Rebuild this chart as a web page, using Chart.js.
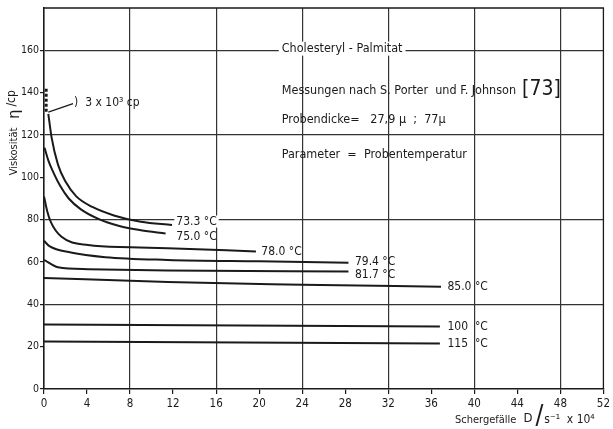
<!DOCTYPE html>
<html>
<head>
<meta charset="utf-8">
<script src="https://cdn.jsdelivr.net/npm/chart.js@4/dist/chart.umd.min.js"></script>
<style>
body { margin: 0; background: #fff; }
</style>
</head>
<body>
<canvas id="chart" width="613" height="429"></canvas>
<script>
// axis ticks
const xTicks = [0, 4, 8, 12, 16, 20, 24, 28, 32, 36, 40, 44, 48, 52];
const yTicks = [0, 20, 40, 60, 80, 100, 120, 140, 160];

// Schergefälle D (x 10^4 1/s) and Viskosität (cp) per temperature
const x733 = [0.4, 0.7, 1.3, 2.0, 3.0, 4.5, 6.5, 9, 11.9];
const y733 = [130, 119, 106, 98, 91, 86, 82, 79, 77.5];
const x750 = [0.05, 0.4, 0.9, 1.5, 2.3, 3.4, 5, 7, 9, 11.3];
const y750 = [114, 108, 102, 96, 90, 85, 80.5, 77, 75, 73.5];
const x780 = [0, 0.3, 0.65, 1.6, 4.1, 8, 11.5, 19.7];
const y780 = [91, 84, 78.7, 72, 68, 67, 66.5, 65];
const x794 = [0, 0.5, 2.5, 5.7, 11.5, 20, 28.3];
const y794 = [70, 67.5, 64.5, 62.3, 61, 60.3, 59.7];
const x817 = [0, 1.3, 4.1, 11.5, 28.3];
const y817 = [61, 57.5, 56.6, 56, 55.5];
const x850 = [0, 11.5, 24, 36.9];
const y850 = [52.5, 50.5, 49.3, 48.3];
const x100 = [0, 36.8];
const y100 = [30.5, 29.5];
const x115 = [0, 36.8];
const y115 = [22.5, 21.5];
// off-scale part (3 x 10^3 cp)
const xHigh = [0.2, 0.2];
const yHigh = [131, 142];
const xLead = [0.4, 2.7];
const yLead = [130.8, 134.8];

const curveNames = ['73.3 °C', '75.0 °C', '78.0 °C', '79.4 °C', '81.7 °C', '85.0 °C', '100 °C', '115 °C'];
const curveX = [x733, x750, x780, x794, x817, x850, x100, x115];
const curveY = [y733, y750, y780, y794, y817, y850, y100, y115];

// label anchors (data units)
const curveLabels = [
    { text: '73.3 °C', x: 12.3, y: 79.1, bg: true },
    { text: '75.0 °C', x: 12.3, y: 72 },
    { text: '78.0 °C', x: 20.2, y: 65 },
    { text: '79.4 °C', x: 28.9, y: 60.2 },
    { text: '81.7 °C', x: 28.9, y: 54 },
    { text: '85.0 °C', x: 37.5, y: 48.3 },
    { text: '100  °C', x: 37.5, y: 29.4 },
    { text: '115  °C', x: 37.5, y: 21.3 }
];

const FONT = "'DejaVu Sans Condensed', 'DejaVu Sans', sans-serif";
const INK = '#1a1a1a';

const toPts = (xs, ys) => xs.map((x, i) => ({ x: x, y: ys[i] }));

const datasets = curveNames.map((name, i) => ({
    label: name,
    data: toPts(curveX[i], curveY[i]),
    borderColor: INK,
    borderWidth: 2,
    pointRadius: 0,
    cubicInterpolationMode: 'monotone',
    fill: false
}));
datasets.push({
    label: 'high',
    data: toPts(xHigh, yHigh),
    borderColor: INK,
    borderWidth: 3,
    borderDash: [3, 2],
    pointRadius: 0
});
datasets.push({
    label: 'lead',
    data: toPts(xLead, yLead),
    borderColor: INK,
    borderWidth: 1.2,
    pointRadius: 0
});

const textPlugin = {
    id: 'texts',
    afterDraw(chart) {
        const ctx = chart.ctx;
        const xs = chart.scales.x, ys = chart.scales.y;
        const area = chart.chartArea;
        ctx.save();
        ctx.fillStyle = INK;
        ctx.strokeStyle = INK;

        // frame top and right
        ctx.lineWidth = 1.3;
        ctx.beginPath();
        ctx.moveTo(area.left, area.top);
        ctx.lineTo(area.right, area.top);
        ctx.lineTo(area.right, area.bottom);
        ctx.stroke();

        ctx.textBaseline = 'middle';
        ctx.textAlign = 'left';
        ctx.font = '12px ' + FONT;
        curveLabels.forEach(l => {
            const px = xs.getPixelForValue(l.x), py = ys.getPixelForValue(l.y);
            if (l.bg) {
                const w = ctx.measureText(l.text).width;
                ctx.fillStyle = '#fff';
                ctx.fillRect(px - 2, py - 6, w + 4, 12);
                ctx.fillStyle = INK;
            }
            ctx.fillText(l.text, px, py);
        });

        // 3 x 10^3 cp
        ctx.font = '12px ' + FONT;
        ctx.fillText(')  3 x 10³ cp', xs.getPixelForValue(2.8), ys.getPixelForValue(135.2));

        // info block
        const bx = xs.getPixelForValue(22.1);
        ctx.font = '12.5px ' + FONT;
        let t = 'Cholesteryl - Palmitat';
        let py = ys.getPixelForValue(160.8);
        let w = ctx.measureText(t).width;
        ctx.fillStyle = '#fff';
        ctx.fillRect(bx - 3, py - 7, w + 6, 14);
        ctx.fillStyle = INK;
        ctx.fillText(t, bx, py);

        t = 'Messungen nach S. Porter  und F. Johnson';
        py = ys.getPixelForValue(141);
        ctx.fillText(t, bx, py);
        w = ctx.measureText(t).width;
        ctx.font = '21px ' + FONT;
        ctx.fillText('[73]', bx + w + 6, py - 1);

        ctx.font = '12.5px ' + FONT;
        ctx.fillText('Probendicke=   27,9 µ  ;  77µ', bx, ys.getPixelForValue(127));
        ctx.fillText('Parameter  =  Probentemperatur', bx, ys.getPixelForValue(110.5));

        // y title (rotated)
        ctx.save();
        ctx.translate(14, ys.getPixelForValue(101));
        ctx.rotate(-Math.PI / 2);
        ctx.textAlign = 'left';
        ctx.font = '11px ' + FONT;
        ctx.fillText('Viskosität', 0, 0);
        let off = ctx.measureText('Viskosität').width + 9;
        ctx.font = '16px ' + FONT;
        ctx.fillText('η', off, 1);
        off += ctx.measureText('η').width + 3;
        ctx.font = '12px ' + FONT;
        ctx.fillText('/cp', off, -2);
        ctx.restore();

        // x title
        let tx = xs.getPixelForValue(38.2);
        const ty = 420;
        ctx.font = '11px ' + FONT;
        ctx.fillText('Schergefälle', tx, ty);
        tx += ctx.measureText('Schergefälle').width + 7;
        ctx.font = '13px ' + FONT;
        ctx.fillText('D', tx, ty - 1);
        tx += ctx.measureText('D').width + 3;
        ctx.font = '26px ' + FONT;
        ctx.fillText('/', tx, ty - 3);
        tx += ctx.measureText('/').width + 1;
        ctx.font = '12px ' + FONT;
        ctx.fillText('s⁻¹  x 10⁴', tx, ty);

        ctx.restore();
    }
};

new Chart(document.getElementById('chart'), {
    type: 'line',
    data: { datasets: datasets },
    options: {
        responsive: false,
        animation: false,
        layout: { padding: { top: 8, right: 6, left: 0, bottom: 0 } },
        plugins: { legend: { display: false }, tooltip: { enabled: false } },
        scales: {
            x: {
                type: 'linear',
                min: 0,
                max: 52,
                afterBuildTicks: s => { s.ticks = xTicks.map(v => ({ value: v })); },
                afterFit: s => { s.height = 40; },
                border: { color: INK, width: 1.6 },
                grid: {
                    color: c => (c.tick && c.tick.value % 8 === 0 && c.tick.value > 0) ? '#333' : 'rgba(0,0,0,0)',
                    lineWidth: 1.2,
                    tickColor: INK,
                    tickLength: 5
                },
                ticks: {
                    color: INK,
                    font: { family: FONT, size: 11.5 },
                    padding: 3,
                    maxRotation: 0
                }
            },
            y: {
                type: 'linear',
                min: 0,
                max: 180,
                afterBuildTicks: s => { s.ticks = yTicks.map(v => ({ value: v })); },
                afterFit: s => { s.width = 44; },
                border: { color: INK, width: 1.6 },
                grid: {
                    color: c => (c.tick && c.tick.value % 40 === 0 && c.tick.value > 0) ? '#333' : 'rgba(0,0,0,0)',
                    lineWidth: 1.2,
                    tickColor: INK,
                    tickLength: 4
                },
                ticks: {
                    color: INK,
                    font: { family: FONT, size: 10.5 },
                    padding: 1
                }
            }
        }
    },
    plugins: [textPlugin]
});
</script>
</body>
</html>
